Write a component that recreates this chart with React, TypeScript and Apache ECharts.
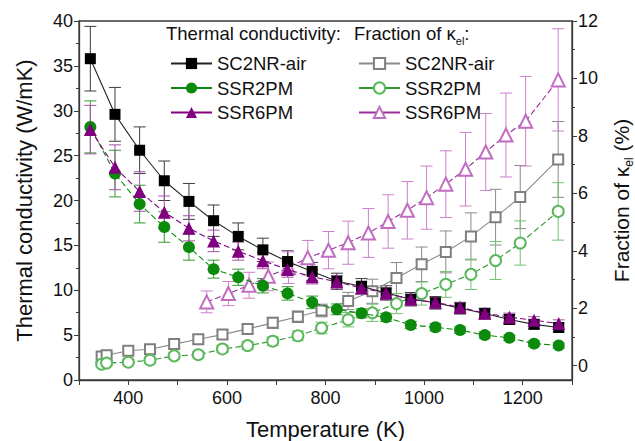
import React, { useEffect, useRef } from "react";
import * as echarts from "echarts";

// Temperatures (K)
const tFilled = [323, 373, 423, 473, 523, 573, 623, 673, 723, 773, 823, 873, 923, 973, 1023, 1073, 1123, 1173, 1223, 1273];
const tHollow = [346, 356, 400, 444, 493, 542, 591, 642, 693, 744, 792, 846, 895, 944, 995, 1044, 1095, 1145, 1195, 1272];
const tHollowSSR6 = [559, 603, 645, 684, 725, 764, 806, 846, 887, 927, 966, 1005, 1044, 1084, 1125, 1166, 1206, 1272];

// Thermal conductivity (W/mK), left axis
const kSC2NR = [35.8, 29.6, 25.6, 22.2, 19.9, 17.75, 16.0, 14.5, 13.2, 12.1, 11.0, 10.45, 9.7, 9.0, 8.6, 8.0, 7.4, 6.75, 6.2, 5.85];
const kSC2NRErr = [3.6, 3.0, 2.6, 2.2, 2.0, 1.75, 1.5, 1.3, 1.2, 1.0, 0.9, 0.85, 0.8, 0.75, 0.7, 0.65, 0.6, 0.55, 0.5, 0.5];
const kSSR2 = [28.2, 23.0, 19.6, 17.05, 14.8, 12.35, 11.45, 10.5, 9.65, 8.65, 7.87, 7.43, 6.98, 6.13, 5.87, 5.57, 5.0, 4.7, 4.05, 3.85];
const kSSR2Err = [2.9, 2.6, 2.1, 1.7, 1.45, 1.0, 0.9, 0.8, 0.75, 0.7, 0.6, 0.5, 0.45, 0.4, 0.4, 0.35, 0.35, 0.3, 0.3, 0.3];
const kSSR6 = [27.9, 23.7, 21.0, 18.7, 16.9, 15.5, 14.35, 13.3, 12.3, 11.5, 10.95, 10.25, 9.66, 9.0, 8.65, 8.1, 7.45, 7.0, 6.65, 6.3];
const kSSR6Err = [2.7, 2.5, 2.2, 1.8, 1.4, 1.2, 1.0, 0.9, 0.85, 0.8, 0.7, 0.65, 0.6, 0.55, 0.5, 0.5, 0.45, 0.45, 0.4, 0.4];

// Fraction of kappa_el (%), right axis
const fSC2NR = [0.32, 0.36, 0.52, 0.57, 0.75, 0.92, 1.08, 1.28, 1.49, 1.7, 1.92, 2.25, 2.59, 3.05, 3.53, 3.96, 4.5, 5.17, 5.87, 7.18];
const fSC2NRErr = [0.1, 0.1, 0.1, 0.1, 0.12, 0.13, 0.15, 0.17, 0.19, 0.2, 0.22, 0.3, 0.42, 0.54, 0.6, 0.73, 0.82, 0.97, 1.1, 1.32];
const fSSR2 = [0.05, 0.09, 0.12, 0.19, 0.34, 0.38, 0.58, 0.7, 0.85, 1.04, 1.31, 1.6, 1.84, 2.16, 2.51, 2.83, 3.18, 3.66, 4.27, 5.37];
const fSSR2Err = [0.08, 0.08, 0.08, 0.09, 0.1, 0.1, 0.12, 0.14, 0.15, 0.17, 0.2, 0.25, 0.3, 0.35, 0.4, 0.45, 0.53, 0.66, 0.77, 1.0];
const fSSR6 = [2.22, 2.51, 2.8, 3.11, 3.41, 3.76, 4.02, 4.28, 4.62, 5.02, 5.41, 5.85, 6.32, 6.84, 7.44, 8.03, 8.51, 9.95];
const fSSR6Err = [0.38, 0.42, 0.45, 0.5, 0.55, 0.6, 0.65, 0.75, 0.85, 0.93, 1.0, 1.1, 1.16, 1.28, 1.34, 1.46, 1.56, 1.78];

const xTicks = [400, 600, 800, 1000, 1200];
const rightLabels = [0, 2, 4, 6, 8, 10, 12];
const rightMinor = [1, 3, 5, 7, 9, 11];

const FONT = "'Liberation Sans', Arial, sans-serif";
const TXT = "#111";
const AX = "#3a3a3a";

function lineSeries(name: string, xs: number[], ys: number[], yAxisIndex: number, symbol: string, size: number,
  color: string, lineColor: string, lineType: any, z: number) {
  return {
    type: "line",
    name,
    yAxisIndex,
    data: xs.map((x, i) => [x, ys[i]]),
    symbol,
    symbolSize: size,
    itemStyle: { color, borderColor: color, borderWidth: symbol.startsWith("empty") ? 1.2 : 0 },
    lineStyle: { color: lineColor, width: 1.1, type: lineType },
    z,
    silent: true,
  };
}

function errSeries(id: string, xs: number[], ys: number[], es: number[], yAxisIndex: number, color: string) {
  return {
    type: "custom",
    name: id,
    yAxisIndex,
    data: xs.map((x, i) => [x, ys[i] - es[i], ys[i] + es[i]]),
    encode: { x: 0, y: [1, 2] },
    z: 1,
    silent: true,
    renderItem: (params: any, api: any) => {
      const x = api.value(0);
      const lo = api.coord([x, api.value(1)]);
      const hi = api.coord([x, api.value(2)]);
      const hw = 6;
      const st = { stroke: color, lineWidth: 1 };
      return {
        type: "group",
        children: [
          { type: "line", shape: { x1: lo[0], y1: lo[1], x2: hi[0], y2: hi[1] }, style: st },
          { type: "line", shape: { x1: lo[0] - hw, y1: lo[1], x2: lo[0] + hw, y2: lo[1] }, style: st },
          { type: "line", shape: { x1: hi[0] - hw, y1: hi[1], x2: hi[0] + hw, y2: hi[1] }, style: st },
        ],
      };
    },
  };
}

const C_BLACK = "#000000";
const C_GREEN = "#0b8a0b";
const C_PURPLE = "#800080";
const C_GRAY = "#7f7f7f";
const C_LGREEN = "#5cb85c";
const C_LPURPLE = "#c06cc0";

export default function App() {
  const ref = useRef<HTMLDivElement>(null);
  useEffect(() => {
    if (!ref.current) return;
    const chart = echarts.init(ref.current, undefined, { renderer: "svg" });
    const legendText = { fontSize: 18.5, fontFamily: FONT, color: TXT };
    const hollowName = (n: string) => n + " κel";
    const option: any = {
      animation: false,
      backgroundColor: "#fff",
      grid: { left: 79, right: 63, top: 21, bottom: 61, show: true, borderColor: AX, borderWidth: 1.3, outerBoundsMode: "none" },
      xAxis: {
        type: "value",
        min: 300,
        max: 1300,
        interval: 100,
        name: "Temperature (K)",
        nameLocation: "middle",
        nameGap: 38,
        nameTextStyle: { fontSize: 22, fontFamily: FONT, color: TXT },
        axisLine: { show: true, onZero: false, lineStyle: { color: AX, width: 1.3 } },
        axisTick: { show: true, length: 5, lineStyle: { color: AX } },
        axisLabel: {
          fontSize: 18,
          fontFamily: FONT,
          color: TXT,
          margin: 9,
          formatter: (v: number) => (xTicks.includes(v) ? String(v) : ""),
        },
        splitLine: { show: false },
      },
      yAxis: [
        {
          type: "value",
          min: 0,
          max: 40,
          interval: 5,
          position: "left",
          name: "Thermal conductivity (W/mK)",
          nameLocation: "middle",
          nameRotate: 90,
          nameGap: 44,
          nameTextStyle: { fontSize: 22, fontFamily: FONT, color: TXT },
          axisLine: { show: true, onZero: false, lineStyle: { color: AX, width: 1.3 } },
          axisTick: { show: true, length: 5, lineStyle: { color: AX } },
          minorTick: { show: true, splitNumber: 2, length: 3, lineStyle: { color: AX } },
          axisLabel: { fontSize: 18, fontFamily: FONT, color: TXT, margin: 6 },
          splitLine: { show: false },
          minorSplitLine: { show: false },
        },
        {
          type: "value",
          min: -0.5,
          max: 12,
          position: "right",
          name: "Fraction of κ{sub|el} (%)",
          nameLocation: "middle",
          nameRotate: 90,
          nameGap: 33,
          nameTextStyle: {
            fontSize: 21,
            fontFamily: FONT,
            color: TXT,
            lineHeight: 26,
            rich: { sub: { fontSize: 12, fontFamily: FONT, color: TXT, lineHeight: 12, verticalAlign: "bottom" } },
          },
          axisLine: { show: true, onZero: false, lineStyle: { color: AX, width: 1.3 } },
          axisTick: { show: true, length: 5, customValues: rightLabels, lineStyle: { color: AX } },
          axisLabel: { fontSize: 18, fontFamily: FONT, color: TXT, margin: 6, customValues: rightLabels },
          splitLine: { show: false },
        },
        {
          type: "value",
          min: -0.5,
          max: 12,
          position: "right",
          axisLine: { show: false },
          axisTick: { show: true, length: 3, customValues: rightMinor, lineStyle: { color: AX } },
          axisLabel: { show: false, customValues: rightMinor },
          splitLine: { show: false },
        },
      ],
      legend: [
        {
          orient: "vertical",
          left: 165,
          top: 49,
          itemWidth: 41,
          itemHeight: 14,
          itemGap: 5.5,
          textStyle: legendText,
          selectedMode: false,
          data: [
            { name: "SC2NR-air", lineStyle: { type: "solid" } },
            { name: "SSR2PM", lineStyle: { type: "solid" } },
            { name: "SSR6PM", lineStyle: { type: "solid" } },
          ],
        },
        {
          orient: "vertical",
          left: 353,
          top: 49,
          itemWidth: 41,
          itemHeight: 14,
          itemGap: 5.5,
          textStyle: legendText,
          selectedMode: false,
          formatter: (n: string) => n.replace(" κel", ""),
          data: [
            { name: hollowName("SC2NR-air"), lineStyle: { type: "solid" } },
            { name: hollowName("SSR2PM"), lineStyle: { type: "solid" } },
            { name: hollowName("SSR6PM"), lineStyle: { type: "solid" } },
          ],
        },
      ],
      graphic: [
        {
          type: "text",
          left: 166,
          top: 24,
          style: { text: "Thermal conductivity:", fontSize: 18.5, fontFamily: FONT, fill: TXT },
        },
        {
          type: "text",
          left: 354,
          top: 20,
          style: {
            text: "Fraction of κ{sub|el}:",
            fontSize: 18.5,
            fontFamily: FONT,
            fill: TXT,
            lineHeight: 26,
            rich: { sub: { fontSize: 11, fontFamily: FONT, fill: TXT, lineHeight: 12, verticalAlign: "bottom" } },
          },
        },
      ],
      series: [
        errSeries("e1", tFilled, kSC2NR, kSC2NRErr, 0, "#3c3c3c"),
        errSeries("e2", tFilled, kSSR2, kSSR2Err, 0, "#2f9a2f"),
        errSeries("e3", tFilled, kSSR6, kSSR6Err, 0, "#a650a6"),
        errSeries("e4", tHollow, fSC2NR, fSC2NRErr, 1, "#8a8a8a"),
        errSeries("e5", tHollow, fSSR2, fSSR2Err, 1, "#72c072"),
        errSeries("e6", tHollowSSR6, fSSR6, fSSR6Err, 1, "#cc80cc"),
        lineSeries(hollowName("SC2NR-air"), tHollow, fSC2NR, 1, "emptyRect", 10, C_GRAY, "#8a8a8a", "solid", 3),
        lineSeries(hollowName("SSR2PM"), tHollow, fSSR2, 1, "emptyCircle", 11, C_LGREEN, "#2e9a2e", [6, 3], 3),
        lineSeries(hollowName("SSR6PM"), tHollowSSR6, fSSR6, 1, "emptyTriangle", 13, C_LPURPLE, "#9a2e9a", [6, 3], 3),
        lineSeries("SC2NR-air", tFilled, kSC2NR, 0, "rect", 11, C_BLACK, "#222", "solid", 4),
        lineSeries("SSR2PM", tFilled, kSSR2, 0, "circle", 12, C_GREEN, C_GREEN, [6, 3], 4),
        lineSeries("SSR6PM", tFilled, kSSR6, 0, "triangle", 13, C_PURPLE, C_PURPLE, [6, 3], 5),
      ],
    };
    chart.setOption(option);
    return () => chart.dispose();
  }, []);
  return <div ref={ref} style={{ width: 635, height: 441, position: "absolute", left: 0, top: 0, background: "#fff" }} />;
}
